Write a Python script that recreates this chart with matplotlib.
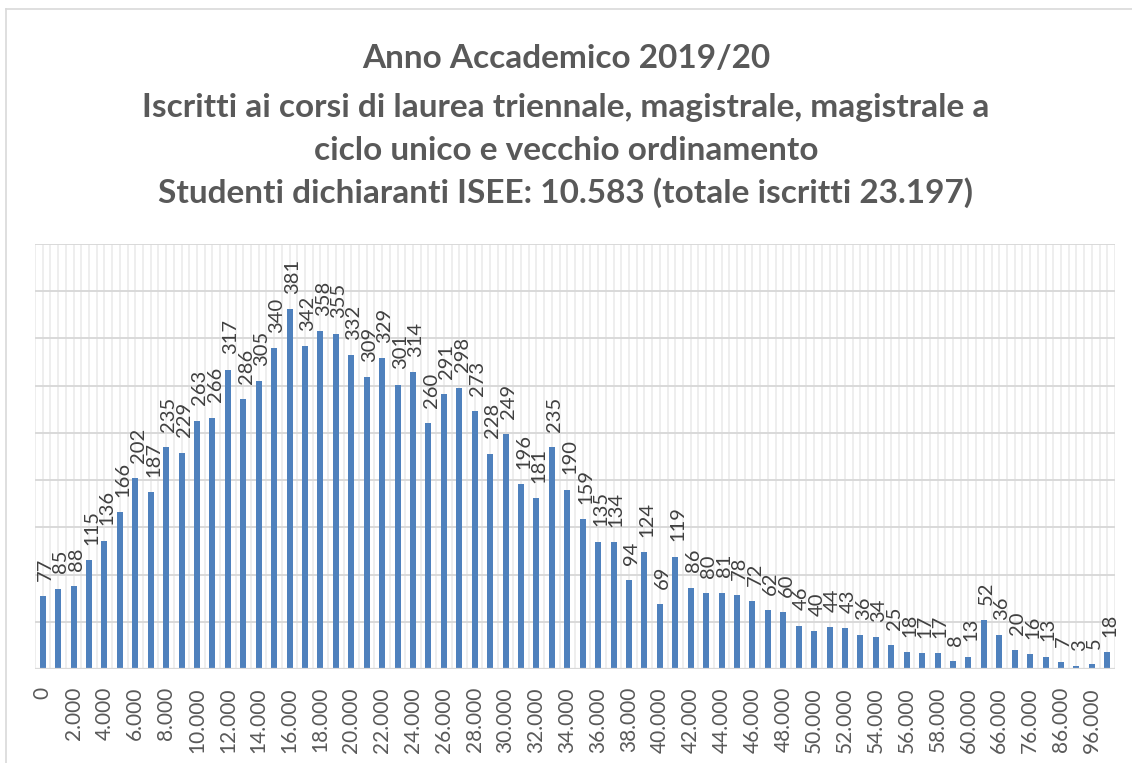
import numpy as np
import matplotlib
matplotlib.use("Agg")
import matplotlib.pyplot as plt
from matplotlib.lines import Line2D

# ISEE income classes (lower bound, euro) and number of students
classi = [f"{k:,}".replace(",", ".") for k in range(0, 61000, 1000)] + \
         ["61.000", "66.000", "71.000", "76.000", "81.000", "86.000", "91.000", "96.000", "101.000"]
studenti = [77, 85, 88, 115, 136, 166, 202, 187, 235, 229,
            263, 266, 317, 286, 305, 340, 381, 342, 358, 355,
            332, 309, 329, 301, 314, 260, 291, 298, 273, 228,
            249, 196, 181, 235, 190, 159, 135, 134, 94, 124,
            69, 119, 86, 80, 81, 78, 72, 62, 60, 46,
            40, 44, 43, 36, 34, 25, 18, 17, 17, 8,
            13, 52, 36, 20, 16, 13, 7, 3, 5, 18]

titolo = ["Anno Accademico 2019/20",
          "Iscritti ai corsi di laurea triennale, magistrale, magistrale a",
          "ciclo unico e vecchio ordinamento",
          "Studenti dichiaranti ISEE: 10.583 (totale iscritti 23.197)"]

plt.rcParams['font.family'] = ['Lato', 'DejaVu Sans']

W, H = 1132, 763
fig = plt.figure(figsize=(W / 100, H / 100), dpi=100)
ax = fig.add_axes([35 / W, (H - 669) / H, (1115 - 35) / W, (669 - 244) / H])

x = np.arange(len(studenti))
n = len(studenti)

# gridlines (vertical: category edges and centres, horizontal: every 50)
for v in np.arange(-0.5, n, 0.5):
    ax.axvline(v, color="#eeeeee", lw=1.4, zorder=0)
for h in range(50, 451, 50):
    ax.axhline(h, color="#d9d9d9", lw=1.4, zorder=0.5)
ax.axhline(0, color="#d9d9d9", lw=1.6, zorder=3)

ax.bar(x, studenti, width=0.39, color="#4f81bd", zorder=2)

for xi, v in zip(x, studenti):
    ax.annotate(str(v), (xi, v), xytext=(2, 11), textcoords="offset points",
                rotation=90, ha="center", va="bottom", fontsize=14.5,
                color="#404040", zorder=4)

ax.set_xlim(-0.5, n - 0.5)
ax.set_ylim(0, 450)
ax.set_xticks(x[::2])
ax.set_xticklabels(classi[::2], rotation=90, fontsize=15, color="#595959")
ax.tick_params(axis="x", length=0, pad=13)
ax.set_yticks([])
for s in ax.spines.values():
    s.set_visible(False)

for t, yp in zip(titolo, [58, 107, 150, 193]):
    fig.text(0.5, 1 - yp / H, t, ha="center", va="center", fontsize=24,
             fontweight="bold", color="#595959")

# chart border (left and top edges visible)
fig.add_artist(Line2D([6 / W, 6 / W], [0, 1 - 9 / H], color="#d9d9d9", lw=1.2))
fig.add_artist(Line2D([6 / W, 1], [1 - 9 / H, 1 - 9 / H], color="#d9d9d9", lw=1.2))

fig.savefig("out.png", dpi=100)
